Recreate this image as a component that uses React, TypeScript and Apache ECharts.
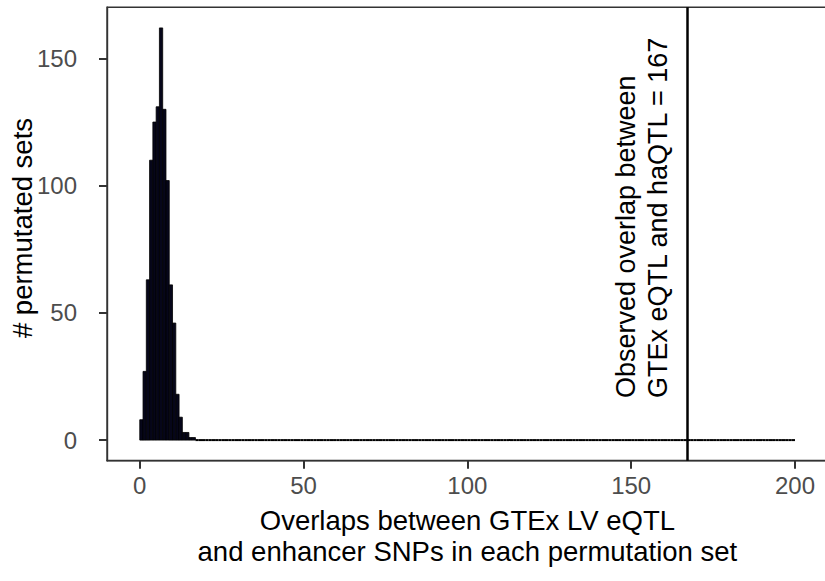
import React, { useEffect, useRef } from "react";
import * as echarts from "echarts";

// Histogram counts for bins [i, i+1), i = 0..199 (1000 permutations)
const counts: number[] = [
  8, 27, 63, 110, 125, 131, 162, 130, 102, 61, 46, 18, 9, 3, 3, 1, 1, 0, 0, 0,
  0, 0, 0, 0, 0, 0, 0, 0, 0, 0, 0, 0, 0, 0, 0, 0, 0, 0, 0, 0,
  0, 0, 0, 0, 0, 0, 0, 0, 0, 0, 0, 0, 0, 0, 0, 0, 0, 0, 0, 0,
  0, 0, 0, 0, 0, 0, 0, 0, 0, 0, 0, 0, 0, 0, 0, 0, 0, 0, 0, 0,
  0, 0, 0, 0, 0, 0, 0, 0, 0, 0, 0, 0, 0, 0, 0, 0, 0, 0, 0, 0,
  0, 0, 0, 0, 0, 0, 0, 0, 0, 0, 0, 0, 0, 0, 0, 0, 0, 0, 0, 0,
  0, 0, 0, 0, 0, 0, 0, 0, 0, 0, 0, 0, 0, 0, 0, 0, 0, 0, 0, 0,
  0, 0, 0, 0, 0, 0, 0, 0, 0, 0, 0, 0, 0, 0, 0, 0, 0, 0, 0, 0,
  0, 0, 0, 0, 0, 0, 0, 0, 0, 0, 0, 0, 0, 0, 0, 0, 0, 0, 0, 0,
  0, 0, 0, 0, 0, 0, 0, 0, 0, 0, 0, 0, 0, 0, 0, 0, 0, 0, 0, 0,
];
const binWidth = 1;
const observedOverlap = 167;
const xTicks = [0, 50, 100, 150, 200];
const yTicks = [0, 50, 100, 150];
const xTitle = "Overlaps between GTEx LV eQTL\nand enhancer SNPs in each permutation set";
const yTitle = "# permutated sets";
const annotation = "Observed overlap between\nGTEx eQTL and haQTL = " + observedOverlap;

const FONT = "'Liberation Sans', Arial, Helvetica, sans-serif";

export default function App() {
  const ref = useRef<HTMLDivElement>(null);
  useEffect(() => {
    document.body.style.margin = "0";
    if (!ref.current) return;
    const chart = echarts.init(ref.current, null, { renderer: "svg" });
    const data = counts.map((c, i) => [i * binWidth, c]);
    chart.setOption({
      animation: false,
      backgroundColor: "#ffffff",
      grid: {
        left: 107,
        top: 7.3,
        width: 720.75,
        height: 453.4,
        containLabel: false,
        outerBoundsMode: "none",
        show: true,
        borderColor: "#333333",
        borderWidth: 1.4,
        backgroundColor: "transparent",
      },
      xAxis: {
        type: "value",
        min: -10,
        max: 210,
        splitLine: { show: false },
        axisLine: { show: true, onZero: false, lineStyle: { color: "#333333", width: 1.4 } },
        axisTick: { show: true, length: 8, customValues: xTicks, lineStyle: { color: "#333333", width: 2 } },
        axisLabel: {
          customValues: xTicks,
          color: "#4d4d4d",
          fontSize: 24,
          fontFamily: FONT,
          margin: 13,
        },
        name: xTitle,
        nameLocation: "middle",
        nameGap: 44,
        nameTextStyle: { color: "#000000", fontSize: 27.5, fontFamily: FONT, lineHeight: 31 },
      },
      yAxis: {
        type: "value",
        min: -8.1,
        max: 170.1,
        splitLine: { show: false },
        axisLine: { show: true, onZero: false, lineStyle: { color: "#333333", width: 1.4 } },
        axisTick: { show: true, length: 8, customValues: yTicks, lineStyle: { color: "#333333", width: 2 } },
        axisLabel: {
          customValues: yTicks,
          color: "#4d4d4d",
          fontSize: 24,
          fontFamily: FONT,
          margin: 30,
        },
      },
      series: [
        {
          type: "custom",
          data,
          clip: false,
          renderItem: (params: any, api: any) => {
            const x0 = api.value(0);
            const v = api.value(1);
            const p0 = api.coord([x0, 0]);
            const p1 = api.coord([x0 + binWidth, v]);
            if (v === 0) {
              return {
                type: "line",
                shape: { x1: p0[0], y1: p0[1], x2: p1[0], y2: p0[1] },
                style: { stroke: "#000000", lineWidth: 2 },
              };
            }
            return {
              type: "rect",
              shape: { x: p0[0], y: p1[1], width: p1[0] - p0[0], height: p0[1] - p1[1] },
              style: { fill: "#06061a", stroke: "#000000", lineWidth: 0.8 },
            };
          },
          markLine: {
            silent: true,
            symbol: "none",
            label: { show: false },
            lineStyle: { color: "#000000", width: 2.5, type: "solid" },
            data: [{ xAxis: observedOverlap }],
          },
        },
      ],
    });
    const px = chart.convertToPixel({ xAxisIndex: 0, yAxisIndex: 0 }, [observedOverlap, 16.5]) as number[];
    chart.setOption({
      graphic: [
        {
          type: "text",
          x: px[0] - 13,
          y: px[1],
          rotation: Math.PI / 2,
          style: {
            text: annotation,
            fill: "#000000",
            fontSize: 27,
            fontFamily: FONT,
            lineHeight: 32,
            align: "left",
            verticalAlign: "bottom",
          },
        },
        {
          type: "text",
          x: 22,
          y: 228,
          rotation: Math.PI / 2,
          style: {
            text: yTitle,
            fill: "#000000",
            fontSize: 27.5,
            fontFamily: FONT,
            align: "center",
            verticalAlign: "middle",
          },
        },
      ],
    });
    return () => chart.dispose();
  }, []);
  return <div ref={ref} style={{ width: 825, height: 581 }} />;
}
